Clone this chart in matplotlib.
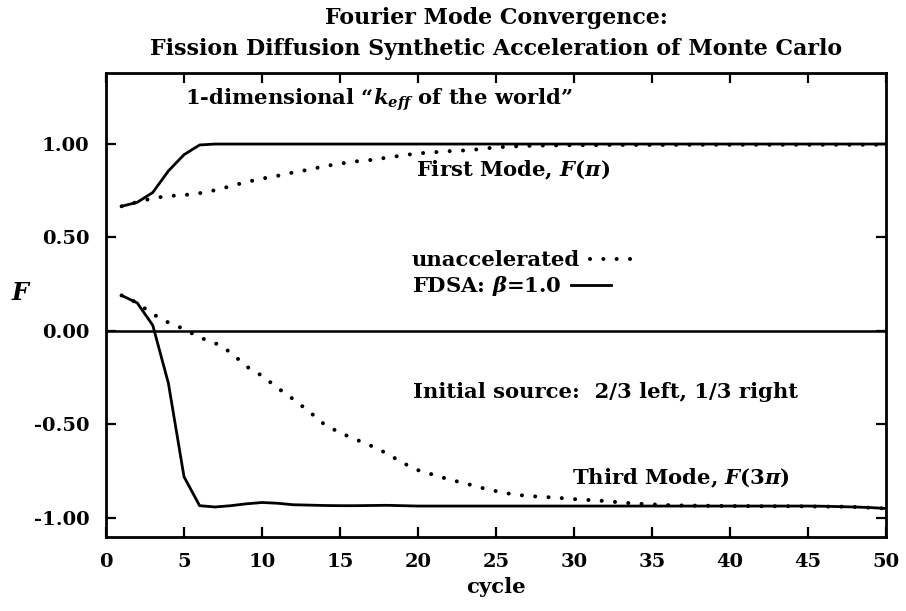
import matplotlib
matplotlib.use("Agg")
import matplotlib.pyplot as plt
from matplotlib.lines import Line2D

# Cycle numbers and Fourier mode amplitudes
cycles = list(range(1, 51))

first_unaccel = [0.667, 0.690, 0.710, 0.722, 0.727, 0.737, 0.753, 0.775, 0.797, 0.815,
                 0.830, 0.848, 0.863, 0.881, 0.895, 0.907, 0.915, 0.927, 0.939, 0.950,
                 0.956, 0.962, 0.966, 0.973, 0.982, 0.987, 0.990, 0.992, 0.993, 0.994,
                 0.994, 0.995, 0.995, 0.995, 0.995, 0.995, 0.996, 0.996, 0.996, 0.996,
                 0.996, 0.996, 0.996, 0.996, 0.996, 0.996, 0.996, 0.996, 0.996, 0.996]

first_fdsa = [0.667, 0.688, 0.741, 0.856, 0.943, 0.995, 1.000, 1.000, 1.000, 1.000,
              1.000, 1.000, 1.000, 1.000, 1.000, 1.000, 1.000, 1.000, 1.000, 1.000,
              1.000, 1.000, 1.000, 1.000, 1.000, 1.000, 1.000, 1.000, 1.000, 1.000,
              1.000, 1.000, 1.000, 1.000, 1.000, 1.000, 1.000, 1.000, 1.000, 1.000,
              1.000, 1.000, 1.000, 1.000, 1.000, 1.000, 1.000, 1.000, 1.000, 1.000]

third_unaccel = [0.190, 0.150, 0.090, 0.045, 0.010, -0.035, -0.065, -0.115, -0.190, -0.240,
                 -0.305, -0.365, -0.430, -0.500, -0.545, -0.580, -0.615, -0.655, -0.705, -0.745,
                 -0.770, -0.795, -0.815, -0.838, -0.857, -0.873, -0.883, -0.888, -0.893, -0.900,
                 -0.905, -0.910, -0.918, -0.924, -0.928, -0.932, -0.934, -0.935, -0.936, -0.937,
                 -0.937, -0.938, -0.938, -0.938, -0.939, -0.940, -0.940, -0.942, -0.946, -0.950]

third_fdsa = [0.190, 0.150, 0.030, -0.280, -0.780, -0.935, -0.942, -0.935, -0.925, -0.918,
              -0.922, -0.930, -0.932, -0.934, -0.935, -0.935, -0.934, -0.933, -0.935, -0.937,
              -0.937, -0.937, -0.937, -0.937, -0.937, -0.937, -0.937, -0.937, -0.937, -0.937,
              -0.937, -0.937, -0.937, -0.937, -0.937, -0.937, -0.937, -0.937, -0.937, -0.937,
              -0.937, -0.937, -0.937, -0.937, -0.937, -0.938, -0.940, -0.942, -0.945, -0.950]

x_ticks = [0, 5, 10, 15, 20, 25, 30, 35, 40, 45, 50]
y_ticks = [1.0, 0.5, 0.0, -0.5, -1.0]
y_tick_labels = ["1.00", "0.50", "0.00", "-0.50", "-1.00"]

plt.rcParams["font.family"] = ["DejaVu Serif"]
plt.rcParams["font.weight"] = "bold"
plt.rcParams["axes.labelweight"] = "bold"
plt.rcParams["mathtext.fontset"] = "custom"
plt.rcParams["mathtext.rm"] = "DejaVu Serif:bold"
plt.rcParams["mathtext.it"] = "DejaVu Serif:italic:bold"
plt.rcParams["mathtext.bf"] = "DejaVu Serif:bold"

FS = 15.2
TICK_FS = 14
TITLE_FS = 15.9

fig = plt.figure(figsize=(9.06, 6.11), dpi=100)
ax = fig.add_axes([0.1170, 0.1219, 0.8609, 0.7586])

dot_style = dict(color="black", lw=2.9, ls=(0, (0.01, 3.3)), dash_capstyle="round")
solid_style = dict(color="black", lw=2.0, solid_joinstyle="round")

ax.plot(cycles, first_unaccel, **dot_style)
ax.plot(cycles, third_unaccel, **dot_style)
ax.plot(cycles, first_fdsa, **solid_style)
ax.plot(cycles, third_fdsa, **solid_style)
ax.axhline(0.0, color="black", lw=1.8)

ax.set_xlim(0, 50)
ax.set_ylim(-1.10, 1.38)
ax.set_xticks(x_ticks)
ax.set_yticks(y_ticks)
ax.set_yticklabels(y_tick_labels)
ax.tick_params(direction="in", length=7, width=1.6, top=True, right=True,
               labelsize=TICK_FS, pad=12)
for s in ax.spines.values():
    s.set_linewidth(2.0)

ax.set_xlabel("cycle", fontsize=FS, labelpad=4)
ax.set_ylabel(r"$F$", fontsize=FS + 2, rotation=0, va="center", ha="center")
ax.yaxis.set_label_coords(-0.108, 0.525)

fig.text(0.5475, 1 - 18 / 611, "Fourier Mode Convergence:", ha="center", va="center",
         fontsize=TITLE_FS)
fig.text(0.5475, 1 - 49 / 611, "Fission Diffusion Synthetic Acceleration of Monte Carlo",
         ha="center", va="center", fontsize=TITLE_FS)

ax.text(5.06, 1.235, r"1-dimensional “$k_{eff}$ of the world”", fontsize=FS,
        ha="left", va="center")
ax.text(19.9, 0.86, r"First Mode, $F(\pi)$", fontsize=FS, ha="left", va="center")
ax.text(19.7, -0.325, "Initial source:  2/3 left, 1/3 right", fontsize=FS,
        ha="left", va="center")
ax.text(29.9, -0.79, r"Third Mode, $F(3\pi)$", fontsize=FS, ha="left", va="center")

# Two one-entry keys so both rows start at the same left edge
key_kw = dict(loc="upper left", frameon=False, markerfirst=False, fontsize=FS,
              handletextpad=0.45, borderpad=0, borderaxespad=0)
key1 = ax.legend([Line2D([], [], **dot_style)], ["unaccelerated"], handlelength=2.0,
                 bbox_to_anchor=(0.392, 0.618), **key_kw)
ax.add_artist(key1)
ax.legend([Line2D([], [], **solid_style)], [r"FDSA: $\beta$=1.0"], handlelength=1.9,
          bbox_to_anchor=(0.392, 0.566), **key_kw)

fig.savefig("out.png", dpi=100)
